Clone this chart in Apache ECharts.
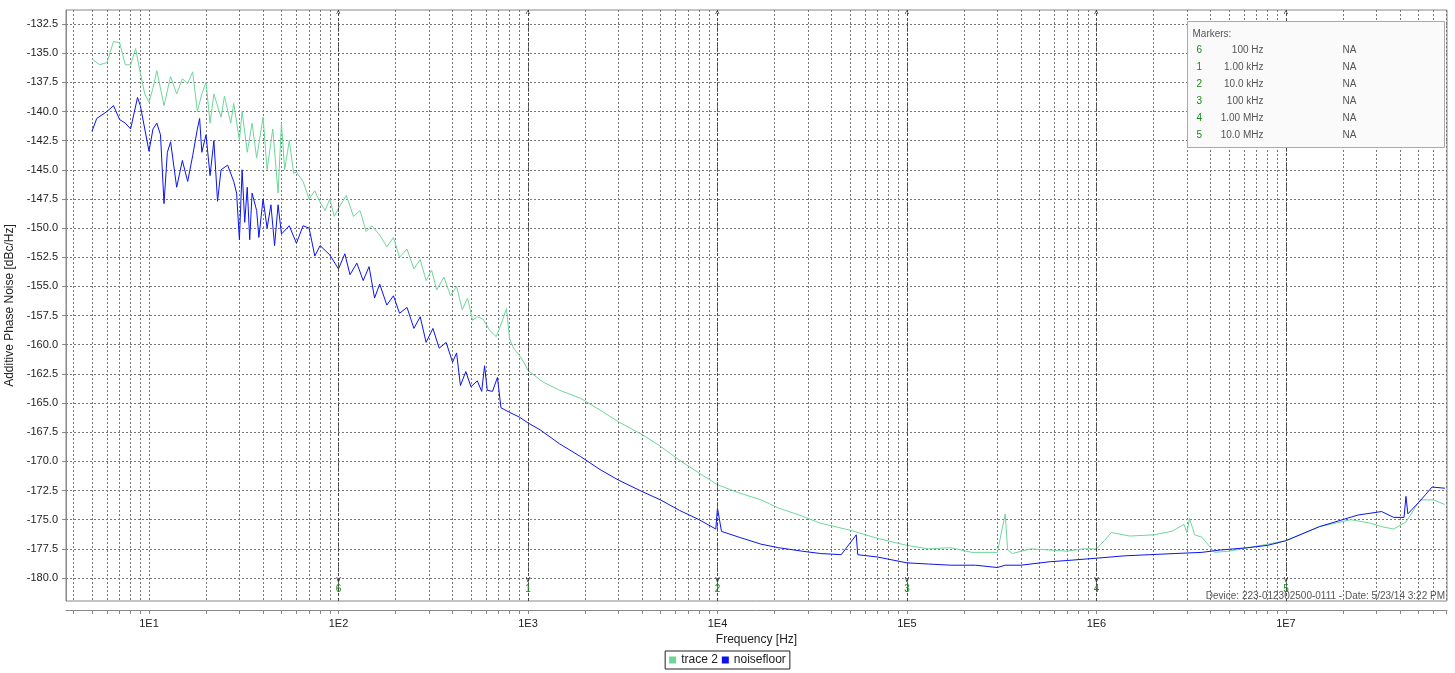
<!DOCTYPE html>
<html><head><meta charset="utf-8">
<script src="https://cdn.jsdelivr.net/npm/echarts@6/dist/echarts.min.js"></script>
<style>html,body{margin:0;padding:0;background:#fff}#c{width:1455px;height:673px}</style>
</head><body><div id="c"></div>
<script>
const trace2Freq = [5,5.5,6,6.5,7,7.5,8,8.5,9,9.5,10,10.5,11,12,13,14,15,16,17,18,19,20,21,22,24,25,27,28,30,31,33,35,37,40,42,45,48,50,52,55,58,60,65,70,75,80,85,90,95,100,110,120,130,140,150,165,180,195,210,230,250,270,290,310,330,360,390,420,450,480,510,540,580,630,680,730,770,800,840,900,950,1000,1200,1470,1900,2400,3000,4000,5000,6300,8000,1e4,1.3e4,1.7e4,2.1e4,2.7e4,3.5e4,5e4,7e4,1e5,1.3e5,1.7e5,2.2e5,3e5,3.3e5,3.4e5,3.6e5,4.5e5,5.7e5,7e5,8.5e5,1e6,1.1e6,1.2e6,1.5e6,2e6,2.5e6,2.9e6,3e6,3.1e6,3.3e6,3.6e6,4.2e6,5e6,6.3e6,8e6,1e7,1.5e7,2.2e7,2.8e7,3.2e7,3.7e7,4.3e7,5.1e7,6e7,6.9e7];
const trace2Val = [-135.5,-136,-135.8,-134,-134.1,-136,-136,-134.6,-136.7,-138.5,-139.2,-138,-136.5,-139.5,-137,-138.5,-137.2,-137.6,-136.6,-140,-138.5,-137.5,-141,-138.5,-140.5,-138.7,-141,-139.3,-142.5,-140,-143.5,-141,-144,-140.5,-145,-141.5,-147,-141,-145,-142.5,-145.3,-145.2,-146,-147.5,-146.8,-147.8,-148.5,-147.5,-149,-148.3,-147.2,-149,-148.5,-150.3,-149.8,-150.6,-151.6,-150.8,-152.5,-151.8,-153.5,-152.7,-154.5,-153.6,-155.3,-154.2,-155.8,-155,-157,-156,-157.9,-157.6,-157.8,-158.8,-159.3,-158,-156.9,-159.5,-160.3,-160.9,-161.5,-162.2,-163.2,-163.9,-164.6,-165.6,-166.6,-167.7,-168.7,-169.9,-171,-172,-172.7,-173.3,-174,-174.6,-175.3,-175.9,-176.6,-177.2,-177.5,-177.4,-177.8,-177.8,-174.5,-177.6,-177.9,-177.5,-177.6,-177.7,-177.5,-177.5,-176.8,-176.1,-176.4,-176.3,-176,-175.4,-176.1,-174.9,-176.3,-176.5,-177.8,-177.7,-177.4,-177.1,-176.8,-175.6,-175,-175.3,-175.6,-175.8,-175.2,-173.3,-173.3,-173.7];
const noiseFreq = [5,5.3,6,6.5,7,7.5,8,8.3,8.7,9,9.5,10,10.5,11,11.5,12,12.5,13,14,15,16,17,18,18.5,19,20,21,22,23,24,26,28,29,30,31,32,33,34,35,37,38,40,42,44,46,48,50,55,60,65,70,75,80,90,100,108,115,125,135,145,155,165,180,195,210,230,250,270,290,315,340,370,400,420,440,470,500,540,570,590,610,650,690,720,800,900,1000,1160,1470,1900,2400,3000,3900,5000,6300,8000,9800,1e4,1.05e4,1.3e4,1.7e4,2.1e4,2.8e4,3.5e4,4.5e4,5.4e4,5.5e4,7e4,1e5,1.3e5,1.7e5,2.3e5,3e5,3.3e5,4e5,5.7e5,7e5,1e6,1.4e6,1.9e6,2.6e6,3.6e6,4.5e6,6.3e6,8e6,1e7,1.5e7,2.4e7,3.2e7,3.7e7,4.2e7,4.3e7,4.4e7,5.1e7,5.9e7,6.9e7];
const noiseVal = [-141.7,-140.6,-140,-139.5,-140.7,-141,-141.5,-140.3,-138.8,-139.5,-141.5,-143.4,-141.5,-141,-142,-147.9,-143.5,-142.6,-146.5,-144.2,-146,-143.8,-141.5,-140.6,-143.5,-142,-145.5,-142.5,-147.7,-145,-144.6,-146,-147,-151,-145,-149.5,-146.5,-151,-147,-148.5,-150.8,-147.5,-150,-148,-151.5,-148,-150.5,-149.8,-151.3,-149.8,-150,-152.4,-151.5,-152.3,-153.5,-152.2,-154,-153,-154.5,-153.3,-156,-154.8,-156.6,-155.8,-157.3,-156.8,-158.6,-157.6,-159.8,-158.6,-160.3,-159.8,-161.5,-160.7,-163.5,-162.3,-163.6,-163.1,-164,-161.8,-163.9,-164,-162.8,-165.4,-165.8,-166.2,-166.7,-167.3,-168.5,-169.6,-170.7,-171.6,-172.5,-173.3,-174.2,-175,-175.8,-174,-176,-176.5,-177.1,-177.4,-177.7,-177.9,-178,-176.3,-178,-178.2,-178.7,-178.8,-178.9,-178.9,-179.1,-178.9,-178.9,-178.6,-178.5,-178.3,-178.1,-178,-177.9,-177.8,-177.6,-177.4,-177.2,-176.8,-175.6,-174.6,-174.3,-174.8,-174.8,-173,-174.5,-173.4,-172.2,-172.3];
const xTickLabels = ['1E1','1E2','1E3','1E4','1E5','1E6','1E7'];
const yTickLabels = ['-180.0','-177.5','-175.0','-172.5','-170.0','-167.5','-165.0','-162.5','-160.0','-157.5','-155.0','-152.5','-150.0','-147.5','-145.0','-142.5','-140.0','-137.5','-135.0','-132.5'];
const markerIds = ['6','1','2','3','4','5'];
const markerFreq = [1e2,1e3,1e4,1e5,1e6,1e7];
const markerText = ['100 Hz','1.00 kHz','10.0 kHz','100 kHz','1.00 MHz','10.0 MHz'];

const lg = v => Math.log10(v);
const xMin = 0.562, xMax = 7.85;
const minorTicks = [];
for (let d = 0; d <= 7; d++) for (let k = 1; k <= 9; k++) { const v = d + Math.log10(k); if (v > xMin && v < xMax) minorTicks.push(v); }
const yVals = yTickLabels.map(Number);
const ff = 'Liberation Sans, Arial, sans-serif';

const chart = echarts.init(document.getElementById('c'));
const markerLineData = markerFreq.map((f,i)=>({xAxis: lg(f), name: markerIds[i]}));
const boxChildren = [
  {type:'rect', z:100, shape:{x:0,y:0,width:257,height:126}, style:{fill:'#fafafa',stroke:'#aaa',lineWidth:1}},
  {type:'text', z:101, x:5, y:8, style:{text:'Markers:', fill:'#555', font:'10px '+ff}}
];
markerIds.forEach((m,i)=>{
  const y = 24 + i*17;
  boxChildren.push({type:'text', z:101, x:9, y, style:{text:m, fill:'#1a8a1a', font:'10px '+ff}});
  boxChildren.push({type:'text', z:101, x:76, y, style:{text:markerText[i], fill:'#555', font:'10px '+ff, align:'right'}});
  boxChildren.push({type:'text', z:101, x:155, y, style:{text:'NA', fill:'#555', font:'10px '+ff}});
});
chart.setOption({
  animation:false,
  grid:{left:66, right:8, top:10, bottom:72, show:true, borderColor:'#888', borderWidth:1, outerBoundsMode:'none', containLabel:false},
  legend:{bottom:4, left:'center', icon:'rect', itemWidth:7, itemHeight:7, itemGap:4,
    borderColor:'#222', borderWidth:1, padding:[3,4], borderRadius:0,
    textStyle:{fontFamily:ff, fontSize:12, color:'#222'}, data:['trace 2','noisefloor']},
  xAxis:{type:'value', min:xMin, max:xMax, offset:9, name:'Frequency [Hz]', nameLocation:'middle', nameGap:24,
    nameTextStyle:{fontFamily:ff, fontSize:12, color:'#222'},
    axisLine:{lineStyle:{color:'#888'}},
    axisTick:{customValues:minorTicks, length:4, inside:false, lineStyle:{color:'#888'}},
    axisLabel:{customValues:[1,2,3,4,5,6,7], formatter:v=>'1E'+Math.round(v), fontFamily:ff, fontSize:11, color:'#222'},
    splitLine:{show:true, lineStyle:{type:[2,2], color:'#777', width:1}}},
  yAxis:{type:'value', min:-181.97, max:-131.3, name:'Additive Phase Noise [dBc/Hz]', nameLocation:'middle', nameGap:50,
    nameTextStyle:{fontFamily:ff, fontSize:12, color:'#222'},
    axisLine:{show:true, lineStyle:{color:'#888'}},
    axisTick:{customValues:yVals, length:4, lineStyle:{color:'#888'}},
    axisLabel:{customValues:yVals, formatter:v=>v.toFixed(1), fontFamily:ff, fontSize:11, color:'#222'},
    splitLine:{show:true, lineStyle:{type:[2,2], color:'#777', width:1}}},
  series:[
    {name:'trace 2', type:'line', showSymbol:false, color:'#6fd69a', lineStyle:{width:1, color:'#6fd69a'},
     data: trace2Freq.map((f,i)=>[lg(f), trace2Val[i]]),
     markLine:{silent:true, symbol:['none','none'], lineStyle:{color:'#444', type:[3,2], width:1},
       label:{position:'start', formatter:p=>'{a|v}\n{b|'+p.name+'}', distance:-26,
         rich:{a:{color:'#333', fontSize:9, fontFamily:ff}, b:{color:'#1a8a1a', fontSize:10, fontFamily:ff}}},
       data: markerLineData}},
    {name:'noisefloor', type:'line', showSymbol:false, color:'#0a14ee', lineStyle:{width:1, color:'#0a14ee'},
     data: noiseFreq.map((f,i)=>[lg(f), noiseVal[i]]),
     markLine:{silent:true, symbol:['none','none'], lineStyle:{color:'#444', type:[3,2], width:1},
       label:{position:'end', formatter:'^', distance:-9, color:'#333', fontSize:9, fontFamily:ff},
       data: markerLineData}}
  ],
  graphic:[
    {type:'group', left:1187, top:21, z:100, children:boxChildren},
    {type:'text', right:10, top:591, z:100, style:{text:'Device: 223-012302500-0111 - Date: 5/23/14 3:22 PM', fill:'#555', font:'10px '+ff}}
  ]
});
</script></body></html>
